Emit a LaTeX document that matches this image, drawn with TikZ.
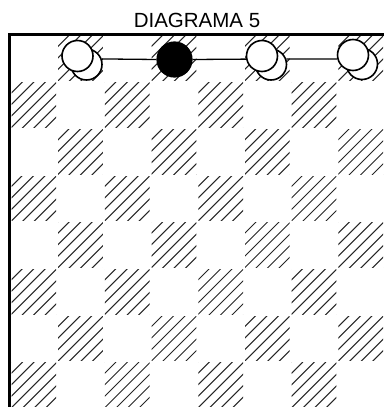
\documentclass[tikz,border=0pt]{standalone}
\usepackage{fontspec}
\setmainfont{Liberation Sans}
\begin{document}
\begin{tikzpicture}[x=1pt,y=-1pt,
  hatch/.style={line width=1pt,black!85},
  frame/.style={line width=3pt,line cap=rect},
  wpiece/.style={circle,draw,fill=white,line width=1.6pt,minimum size=31pt,inner sep=0pt},
  bpiece/.style={circle,draw,fill=black,line width=1.2pt,minimum size=35pt,inner sep=0pt},
  link/.style={line width=1.3pt},
  title/.style={font=\fontsize{20.5}{24}\selectfont,anchor=base,inner sep=0pt}]
\useasboundingbox (0,0) rectangle (383,407);
% title
\node[title] (t) at (197,27) {DIAGRAMA 5};
% hatched squares
\foreach \r in {0,...,7}{
  \foreach \c in {0,...,7}{
    \pgfmathtruncatemacro\dark{mod(\r+\c,2)}
    \ifnum\dark=1
      \begin{scope}
        \clip (11.5+\c*46.7,36+\r*46.7) rectangle ++(44.7,44.7);
        \foreach \k in {-4,...,4}{
          \draw[hatch] (10.5+\c*46.7+\k*11.5,35+\r*46.7+46.7) -- ++(46.7,-46.7);
        }
      \end{scope}
    \fi
  }
}
% frame
\draw[frame] (385,34) -- (9,34) -- (9,409);
% pieces
\node[wpiece] (w1s) at (86.5,64.5) {};
\node[wpiece] (w1) at (77.5,56) {};
\node[bpiece] (b) at (174.5,59.5) {};
\node[wpiece] (w3s) at (271,64.5) {};
\node[wpiece] (w3) at (262,56) {};
\node[wpiece] (w4s) at (362,64) {};
\node[wpiece] (w4) at (353,55) {};
% links
\draw[link] (w1s.20) -- (b.west);
\draw[link] (b.east) -- (w3.191);
\draw[link] (w3s.20) -- (w4.194);
\end{tikzpicture}
\end{document}
